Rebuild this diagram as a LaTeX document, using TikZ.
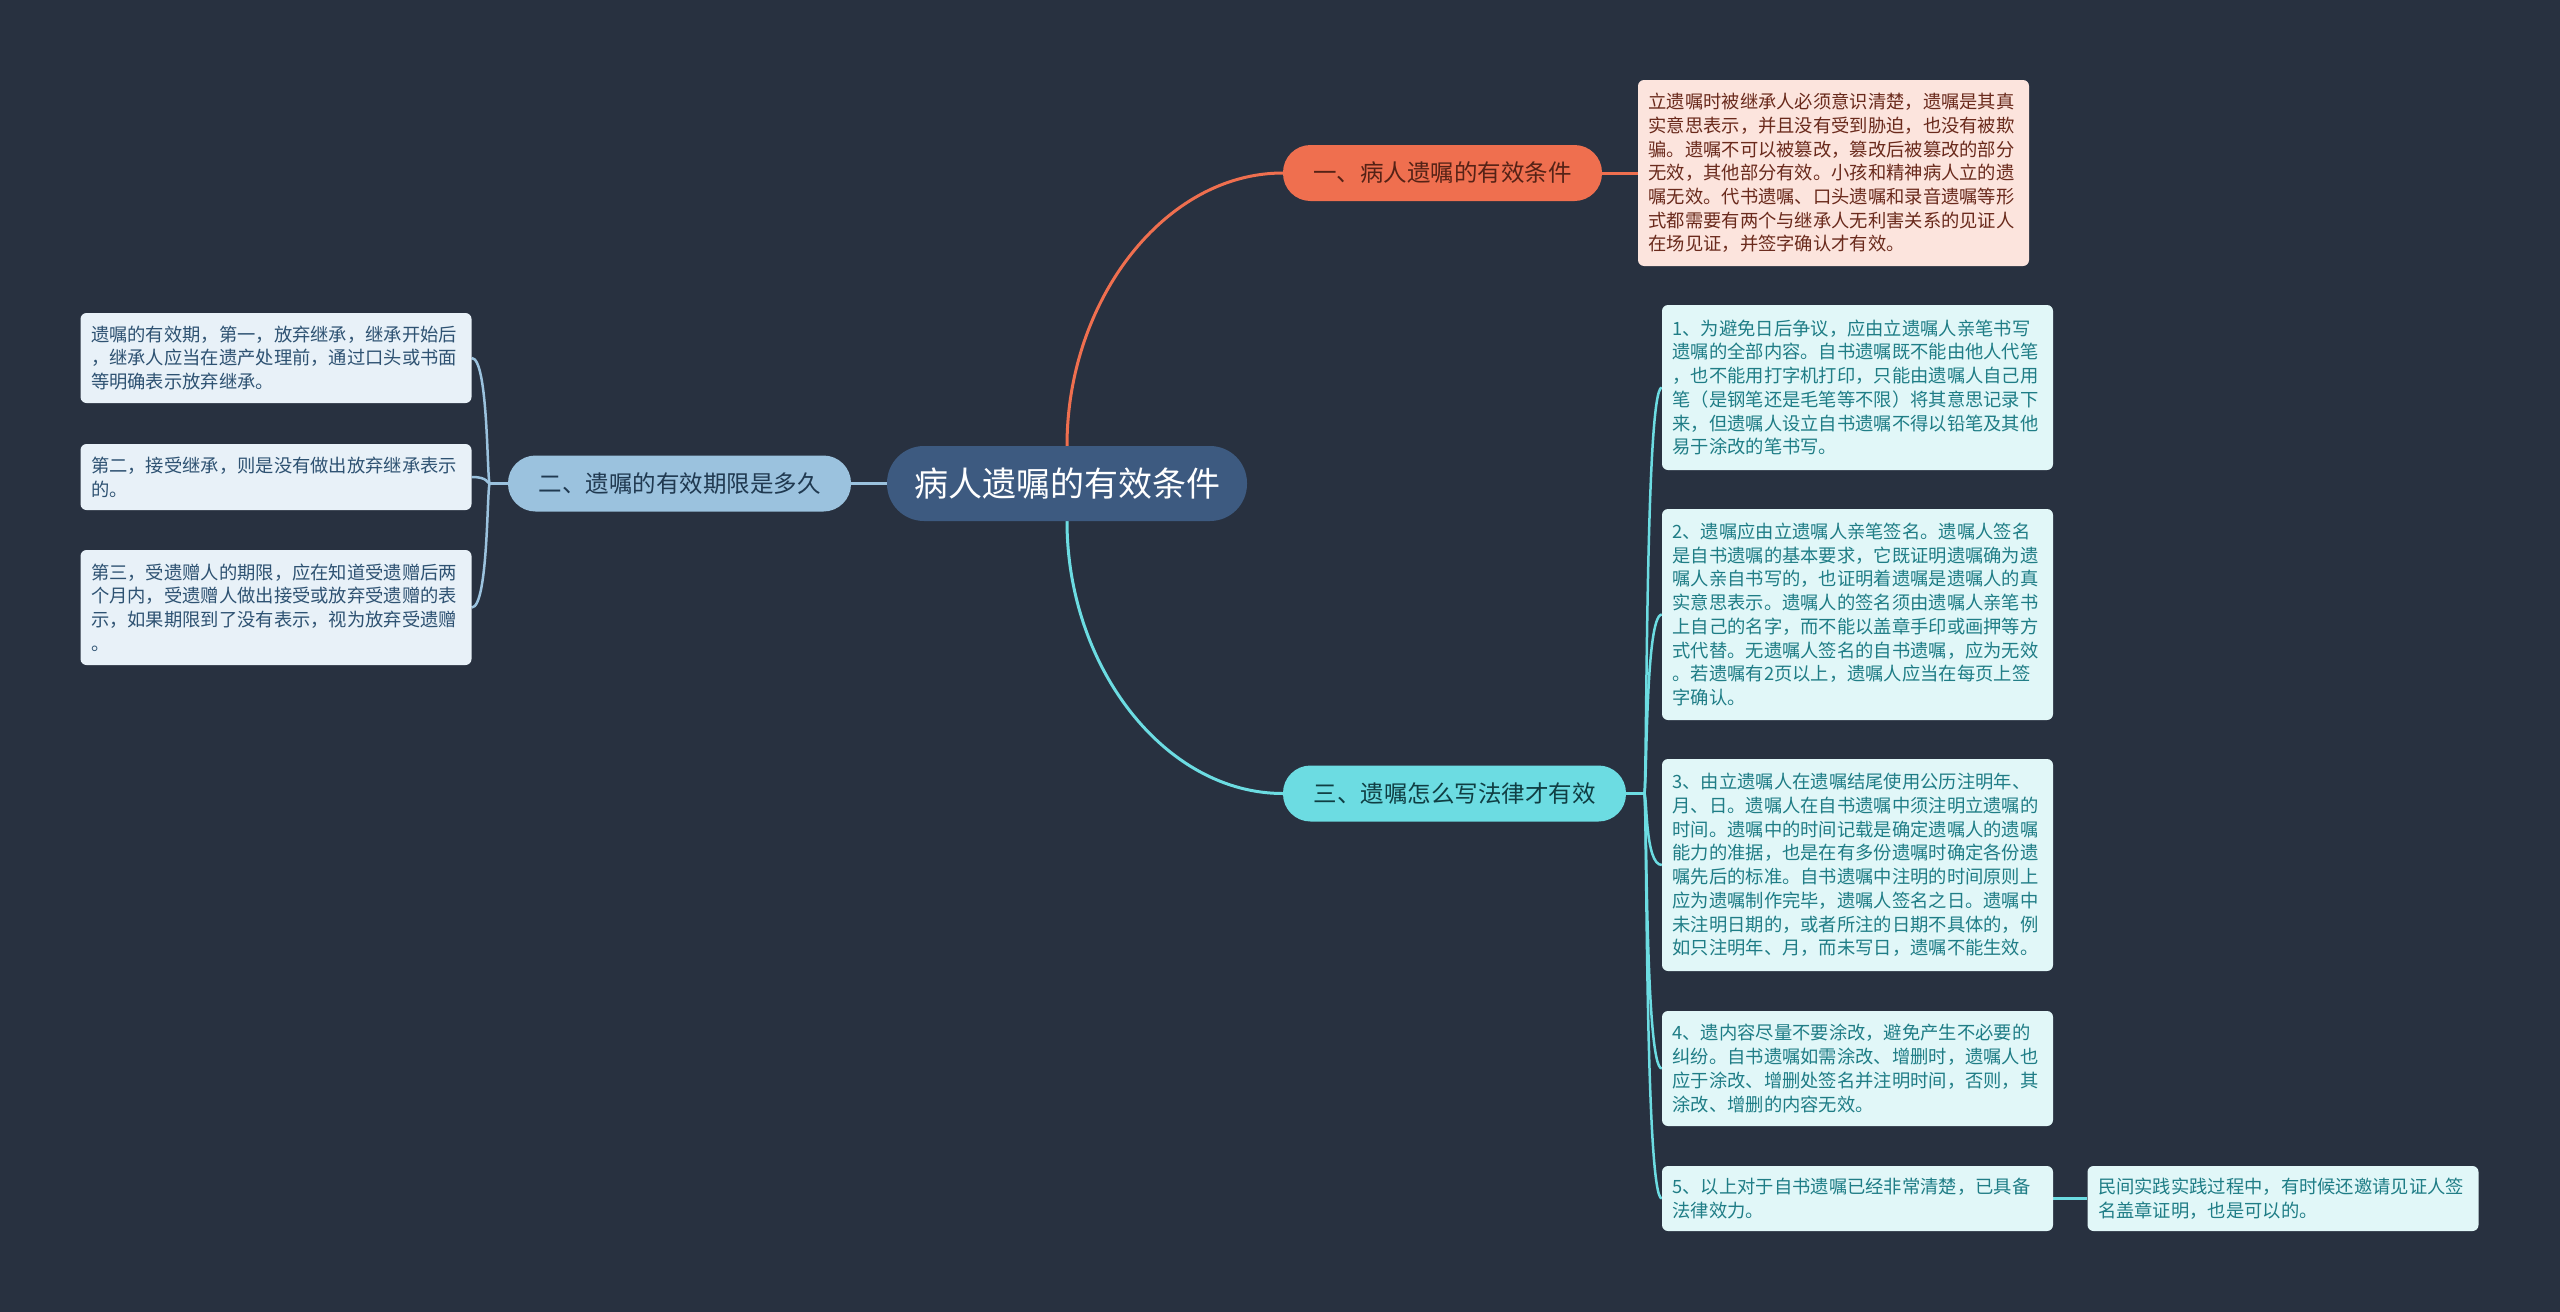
\documentclass[tikz,border=0pt]{standalone}
\usepackage{fontspec}
\setmainfont{Noto Sans CJK SC}
\usetikzlibrary{backgrounds}
\definecolor{bg}{HTML}{283140}
\definecolor{centerfill}{HTML}{3D5A80}
\definecolor{orangeb}{HTML}{EF6F4F}
\definecolor{cyanb}{HTML}{6CDCE2}
\definecolor{blueb}{HTML}{9BC2DE}
\definecolor{pinkleaf}{HTML}{FCE4DD}
\definecolor{pinktext}{HTML}{6A2A1C}
\definecolor{cyanleaf}{HTML}{E1F7F8}
\definecolor{cyantext}{HTML}{1F7D86}
\definecolor{blueleaf}{HTML}{E8F1F8}
\definecolor{bluetext}{HTML}{2E5272}
\tikzset{
  leafbox/.style={rounded corners=6pt, text width=370pt, align=left,
    inner xsep=10.5pt, inner ysep=0pt,
    font=\fontsize{18.3}{23.7}\selectfont},
  pinkbox/.style={leafbox, fill=pinkleaf, text=pinktext},
  cyanbox/.style={leafbox, fill=cyanleaf, text=cyantext},
  bluebox/.style={leafbox, fill=blueleaf, text=bluetext},
  branch/.style={rounded corners=27.5pt, minimum height=56pt, inner sep=0pt,
    font=\fontsize{23.5}{28}\selectfont},
  conn/.style={line width=3pt},
  leafconn/.style={line width=2.5pt},
}
\begin{document}
\begin{tikzpicture}[x=1pt,y=-1pt]
\useasboundingbox (0,0) rectangle (2560,1312);

% central
\node[fill=centerfill, text=white, rounded corners=37pt, minimum width=360pt,
  minimum height=75pt, inner sep=0pt, font=\fontsize{34}{40}\selectfont]
  (c) at (1067,483.5) {病人遗嘱的有效条件};

% branches
\node[branch, fill=orangeb, text=pinktext!80!black, minimum width=319pt] (b1) at (1442.5,173) {一、病人遗嘱的有效条件};
\node[branch, fill=blueb, text=bluetext!70!black, minimum width=343pt] (b2) at (679.5,483.5) {二、遗嘱的有效期限是多久};
\node[branch, fill=cyanb, text=cyantext!50!black, minimum width=343pt] (b3) at (1454.5,793.5) {三、遗嘱怎么写法律才有效};

% leaf of branch 1
\node[pinkbox, minimum height=186pt] (p1) at (1833.5,173) {立遗嘱时被继承人必须意识清楚，遗嘱是其真\\实意思表示，并且没有受到胁迫，也没有被欺\\骗。遗嘱不可以被篡改，篡改后被篡改的部分\\无效，其他部分有效。小孩和精神病人立的遗\\嘱无效。代书遗嘱、口头遗嘱和录音遗嘱等形\\式都需要有两个与继承人无利害关系的见证人\\在场见证，并签字确认才有效。};

% leaves of branch 3
\node[cyanbox, minimum height=165pt] (t1) at (1857.5,387.5) {1、为避免日后争议，应由立遗嘱人亲笔书写\\遗嘱的全部内容。自书遗嘱既不能由他人代笔\\，也不能用打字机打印，只能由遗嘱人自己用\\笔（是钢笔还是毛笔等不限）将其意思记录下\\来，但遗嘱人设立自书遗嘱不得以铅笔及其他\\易于涂改的笔书写。};
\node[cyanbox, minimum height=211pt] (t2) at (1857.5,614.5) {2、遗嘱应由立遗嘱人亲笔签名。遗嘱人签名\\是自书遗嘱的基本要求，它既证明遗嘱确为遗\\嘱人亲自书写的，也证明着遗嘱是遗嘱人的真\\实意思表示。遗嘱人的签名须由遗嘱人亲笔书\\上自己的名字，而不能以盖章手印或画押等方\\式代替。无遗嘱人签名的自书遗嘱，应为无效\\。若遗嘱有2页以上，遗嘱人应当在每页上签\\字确认。};
\node[cyanbox, minimum height=212pt] (t3) at (1857.5,865) {3、由立遗嘱人在遗嘱结尾使用公历注明年、\\月、日。遗嘱人在自书遗嘱中须注明立遗嘱的\\时间。遗嘱中的时间记载是确定遗嘱人的遗嘱\\能力的准据，也是在有多份遗嘱时确定各份遗\\嘱先后的标准。自书遗嘱中注明的时间原则上\\应为遗嘱制作完毕，遗嘱人签名之日。遗嘱中\\未注明日期的，或者所注的日期不具体的，例\\如只注明年、月，而未写日，遗嘱不能生效。};
\node[cyanbox, minimum height=115pt] (t4) at (1857.5,1068.5) {4、遗内容尽量不要涂改，避免产生不必要的\\纠纷。自书遗嘱如需涂改、增删时，遗嘱人也\\应于涂改、增删处签名并注明时间，否则，其\\涂改、增删的内容无效。};
\node[cyanbox, minimum height=65pt] (t5) at (1857.5,1198.5) {5、以上对于自书遗嘱已经非常清楚，已具备\\法律效力。};
\node[cyanbox, minimum height=65pt] (t6) at (2283,1198.5) {民间实践实践过程中，有时候还邀请见证人签\\名盖章证明，也是可以的。};

% leaves of branch 2
\node[bluebox, minimum height=90pt] (s1) at (276,358) {遗嘱的有效期，第一，放弃继承，继承开始后\\，继承人应当在遗产处理前，通过口头或书面\\等明确表示放弃继承。};
\node[bluebox, minimum height=66pt] (s2) at (276,477) {第二，接受继承，则是没有做出放弃继承表示\\的。};
\node[bluebox, minimum height=115pt] (s3) at (276,607.5) {第三，受遗赠人的期限，应在知道受遗赠后两\\个月内，受遗赠人做出接受或放弃受遗赠的表\\示，如果期限到了没有表示，视为放弃受遗赠\\。};

\coordinate (h3) at ([xshift=18pt]b3.east);
\coordinate (h2) at ([xshift=-18pt]b2.west);

\begin{scope}[on background layer]
\fill[bg] (0,0) rectangle (2560,1312);
% central to branches
\draw[conn, orangeb] (c.north) .. controls (1067,300) and (1165,173) .. (b1.west);
\draw[conn, cyanb] (c.south) .. controls (1067,667) and (1165,793.5) .. (b3.west);
\draw[conn, blueb] (c.west) -- (b2.east);
% branch 1 leaf
\draw[conn, orangeb] (b1.east) -- (p1.west);
% branch 3 leaves
\draw[leafconn, cyanb] (b3.east) -- (h3);
\foreach \t in {t1,t2,t3,t4,t5}{
  \draw[leafconn, cyanb] (h3) .. controls ([xshift=3pt]h3) and ([xshift=-17pt]\t.west) .. (\t.west);
}
\draw[leafconn, cyanb] (t5.east) -- (t6.west);
% branch 2 leaves
\draw[leafconn, blueb] (b2.west) -- (h2);
\foreach \s in {s1,s2,s3}{
  \draw[leafconn, blueb] (h2) .. controls ([xshift=-3pt]h2) and ([xshift=17pt]\s.east) .. (\s.east);
}
\end{scope}
\end{tikzpicture}
\end{document}
